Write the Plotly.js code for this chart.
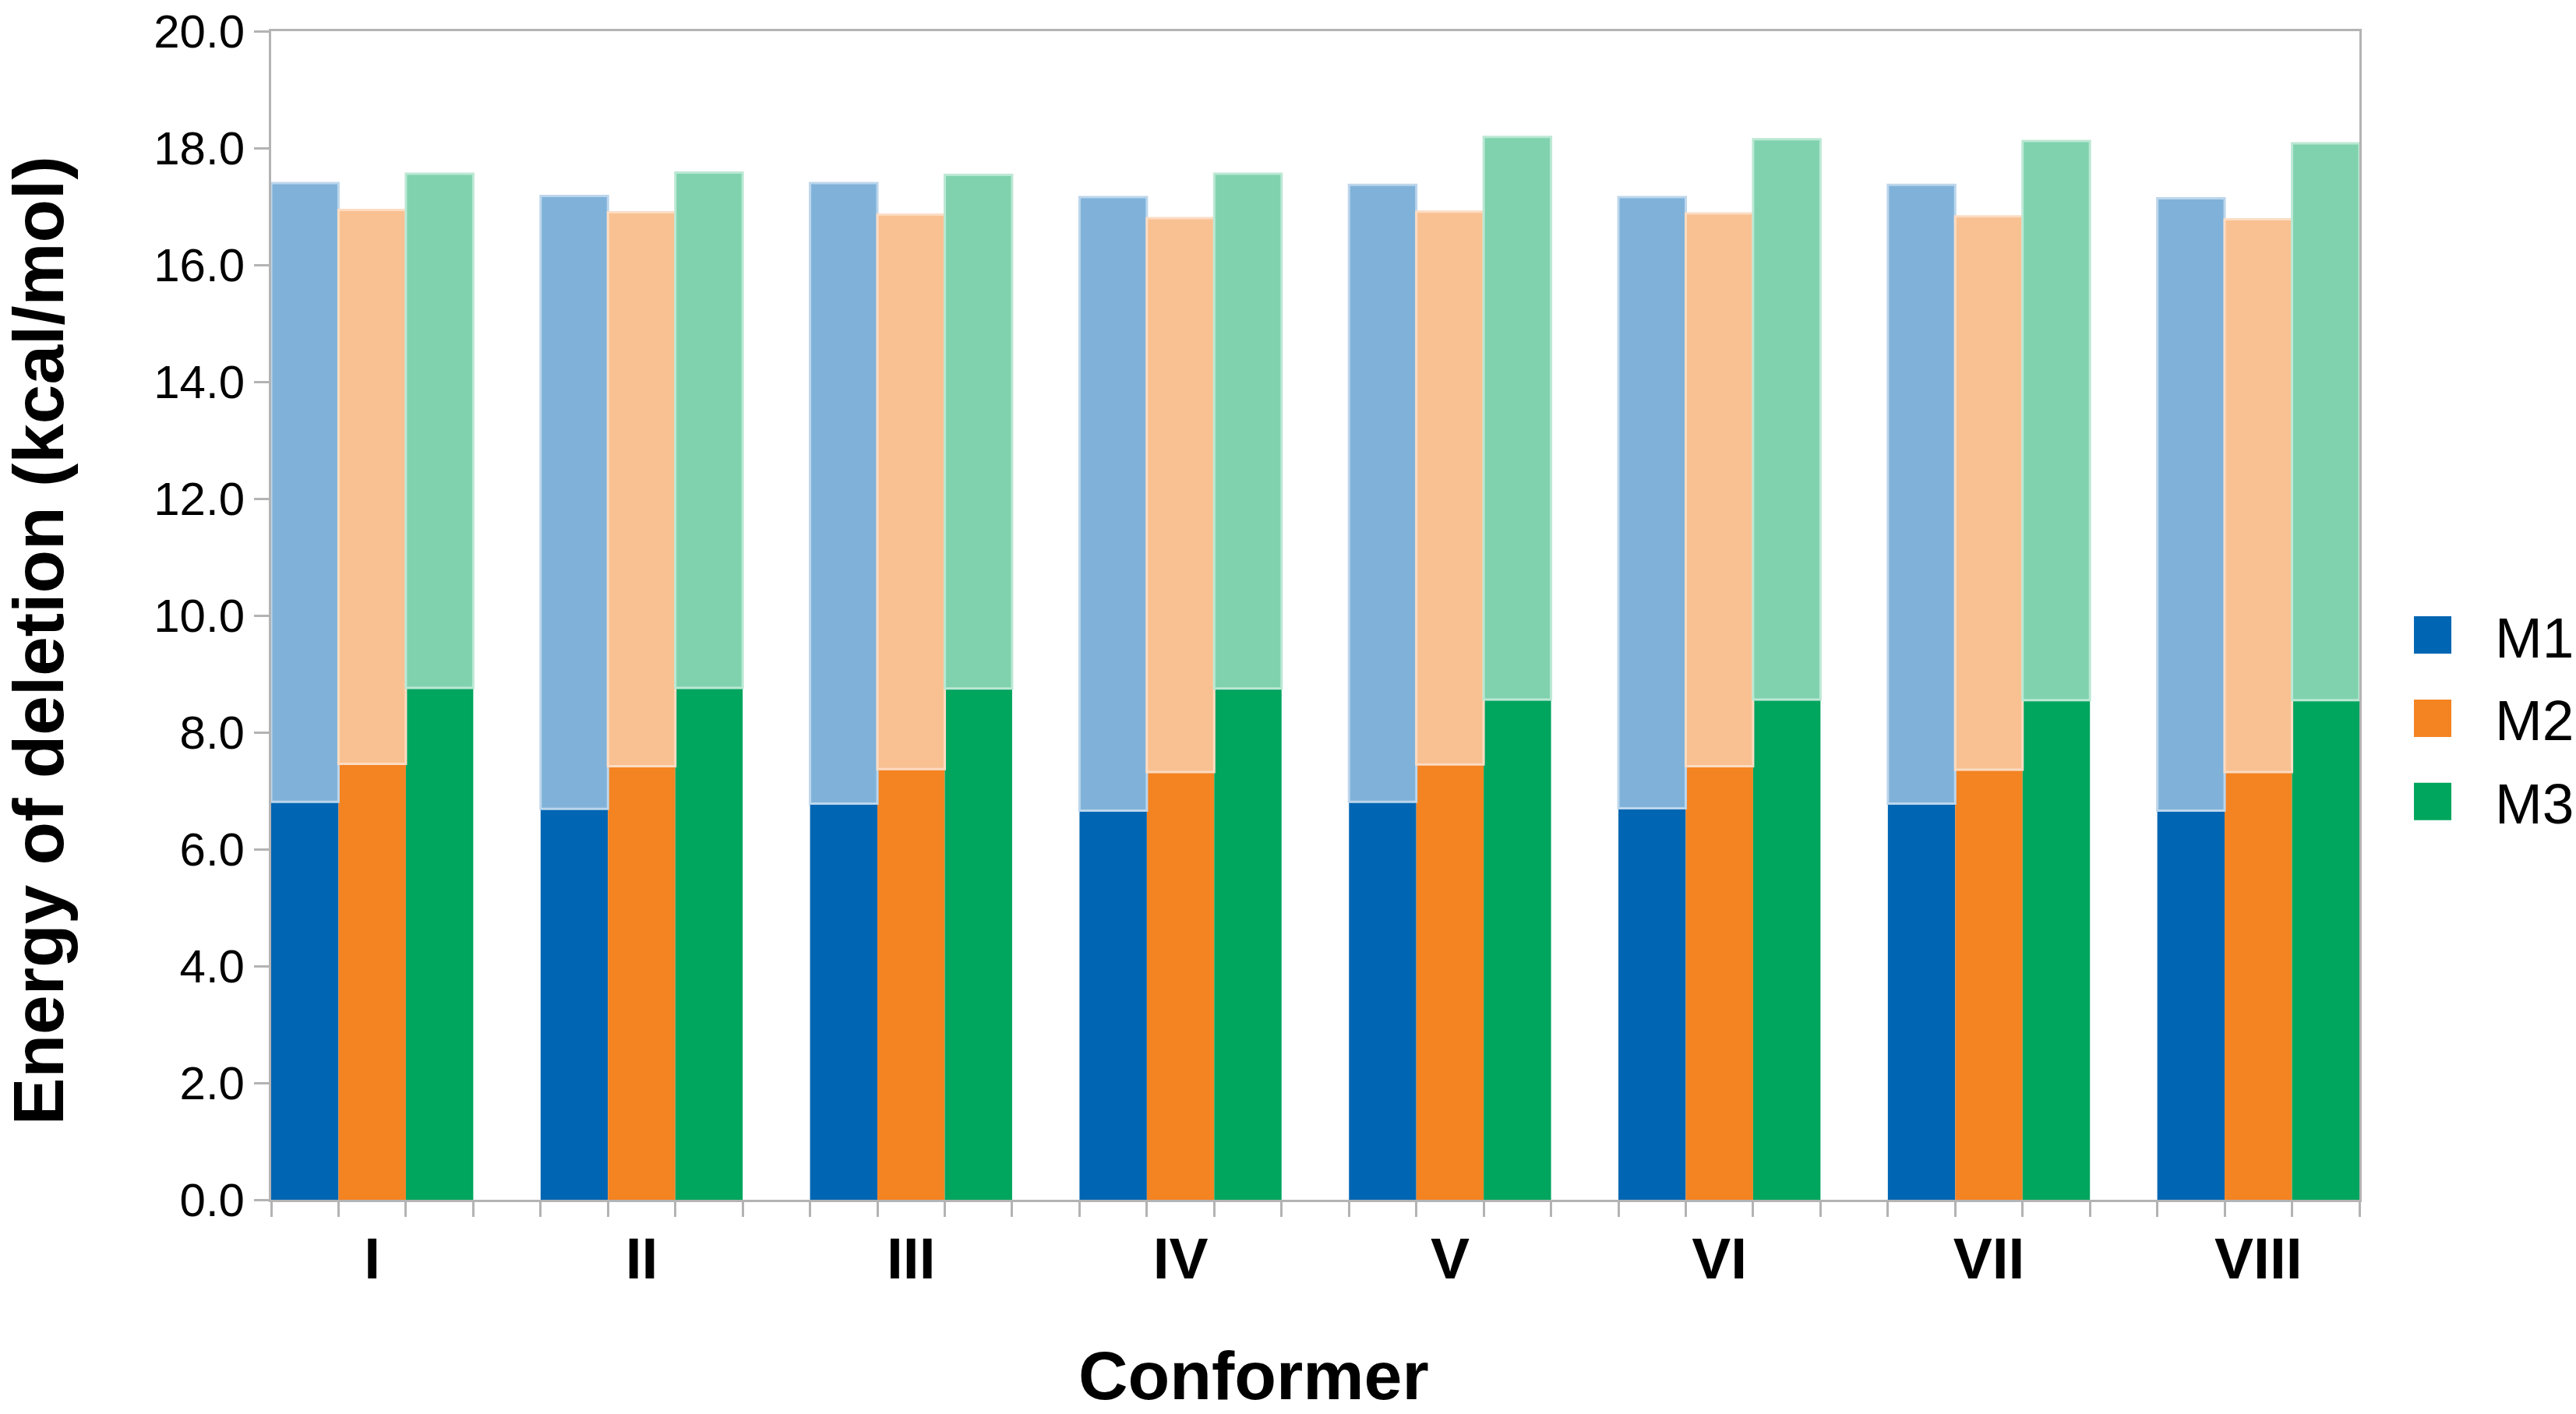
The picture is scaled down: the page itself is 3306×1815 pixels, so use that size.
<!DOCTYPE html>
<html>
<head>
<meta charset="utf-8">
<script src="https://cdn.plot.ly/plotly-3.0.1.min.js"></script>
<style>
  html, body { margin: 0; padding: 0; background: #ffffff; width: 3306px; height: 1815px; overflow: hidden; }
  #wrap { position: relative; width: 3306px; height: 1815px; overflow: hidden; background: #ffffff; }
  #chart { position: absolute; left: 0; top: 0; transform-origin: 0 0; }
</style>
</head>
<body>
<div id="wrap"><div id="chart"></div></div>
<script>
// ---- data ----
const categories = ['I', 'II', 'III', 'IV', 'V', 'VI', 'VII', 'VIII'];
const seriesNames = ['M1', 'M2', 'M3'];
const m1Lower = [6.81, 6.69, 6.78, 6.66, 6.81, 6.70, 6.78, 6.66];
const m1Total = [17.40, 17.18, 17.40, 17.16, 17.37, 17.16, 17.37, 17.14];
const m2Lower = [7.46, 7.42, 7.37, 7.32, 7.45, 7.42, 7.36, 7.32];
const m2Total = [16.94, 16.90, 16.86, 16.80, 16.91, 16.88, 16.83, 16.78];
const m3Lower = [8.76, 8.76, 8.75, 8.75, 8.56, 8.56, 8.55, 8.55];
const m3Total = [17.56, 17.58, 17.54, 17.56, 18.19, 18.15, 18.12, 18.08];
const yTickMax = 20;
const yTickStep = 2;

// ---- styling ----
const S = 4;                       // render scale (page is drawn at 1/S and scaled up)
const W = 3306, H = 1815;
const p = v => v / S;
const FONT = 'Liberation Sans, Arial, Helvetica, sans-serif';
const AXIS = '#b3b3b3';
const darkColors = ['#0066b3', '#f48322', '#00a55e'];
const lightColors = ['#80b2d9', '#f9c192', '#80d2ae'];
const lightEdges = ['#bcd6ec', '#fcdcc3', '#bbe8d4'];

const lowers = [m1Lower, m2Lower, m3Lower];
const totals = [m1Total, m2Total, m3Total];
const xIdx = categories.map((_, i) => i);

const plot = { l: 349, r: 3026, t: 39, b: 1538 };
const bargap = 0.25;
const half = (1 - bargap) / 2;

const traces = [];
seriesNames.forEach((name, k) => {
  traces.push({
    type: 'bar', name: name, x: xIdx, y: lowers[k],
    offsetgroup: name, legendgroup: name, showlegend: true,
    marker: { color: darkColors[k], line: { width: 0 } },
    hoverinfo: 'skip'
  });
});
seriesNames.forEach((name, k) => {
  traces.push({
    type: 'bar', name: name + ' (upper)', x: xIdx,
    y: totals[k].map((t, i) => t - lowers[k][i]),
    base: lowers[k],
    offsetgroup: name, legendgroup: name, showlegend: false,
    marker: { color: lightColors[k], line: { width: p(3), color: lightEdges[k] } },
    hoverinfo: 'skip'
  });
});

const layout = {
  width: W / S, height: H / S, autosize: false,
  margin: { l: p(plot.l), r: p(W - plot.r), t: p(plot.t), b: p(H - plot.b), pad: 0, autoexpand: false },
  paper_bgcolor: '#ffffff', plot_bgcolor: '#ffffff',
  barmode: 'group', bargap: bargap, bargroupgap: 0,
  font: { family: FONT, color: '#000000' },
  showlegend: true,
  legend: {
    x: (3040 - plot.l) / (plot.r - plot.l), xanchor: 'left',
    y: (plot.b - 922) / (plot.b - plot.t), yanchor: 'middle',
    font: { family: FONT, size: p(73), color: '#000000' },
    bgcolor: 'rgba(0,0,0,0)', borderwidth: 0, traceorder: 'normal'
  },
  xaxis: {
    range: [-half, categories.length - 1 + half],
    tickmode: 'array', tickvals: xIdx, ticktext: categories,
    ticks: 'outside', ticklen: p(8), tickcolor: 'rgba(0,0,0,0)',
    showline: true, linecolor: AXIS, linewidth: p(3), mirror: true,
    showgrid: false, zeroline: false,
    tickfont: { family: FONT, size: p(75), color: '#000000', weight: 'bold' },
    ticklabelstandoff: p(53),
    minor: {
      tickmode: 'linear', tick0: -half, dtick: (1 - bargap) / seriesNames.length,
      ticks: 'outside', ticklen: p(19), tickwidth: p(3), tickcolor: AXIS, showgrid: false
    }
  },
  yaxis: {
    range: [0, yTickMax], tickmode: 'linear', tick0: 0, dtick: yTickStep, tickformat: '.1f',
    ticks: 'outside', ticklen: p(19), tickwidth: p(3), tickcolor: AXIS,
    showline: true, linecolor: AXIS, linewidth: p(3), mirror: true,
    showgrid: false, zeroline: false,
    tickfont: { family: FONT, size: p(60), color: '#000000' },
    ticklabelstandoff: p(14)
  },
  annotations: [
    {
      text: 'Energy of deletion (kcal/mol)', textangle: -90,
      xref: 'paper', yref: 'paper',
      x: (52 - plot.l) / (plot.r - plot.l), y: (plot.b - 820) / (plot.b - plot.t),
      xanchor: 'center', yanchor: 'middle', showarrow: false,
      font: { family: FONT, size: p(91), color: '#000000', weight: 'bold' }
    },
    {
      text: 'Conformer',
      xref: 'paper', yref: 'paper',
      x: (1608 - plot.l) / (plot.r - plot.l), y: (plot.b - 1764) / (plot.b - plot.t),
      xanchor: 'center', yanchor: 'middle', showarrow: false,
      font: { family: FONT, size: p(88), color: '#000000', weight: 'bold' }
    }
  ]
};

const el = document.getElementById('chart');
el.style.width = (W / S) + 'px';
el.style.height = (H / S) + 'px';
el.style.transform = 'scale(' + S + ')';
Plotly.newPlot(el, traces, layout, { staticPlot: true, displayModeBar: false });
</script>
</body>
</html>
